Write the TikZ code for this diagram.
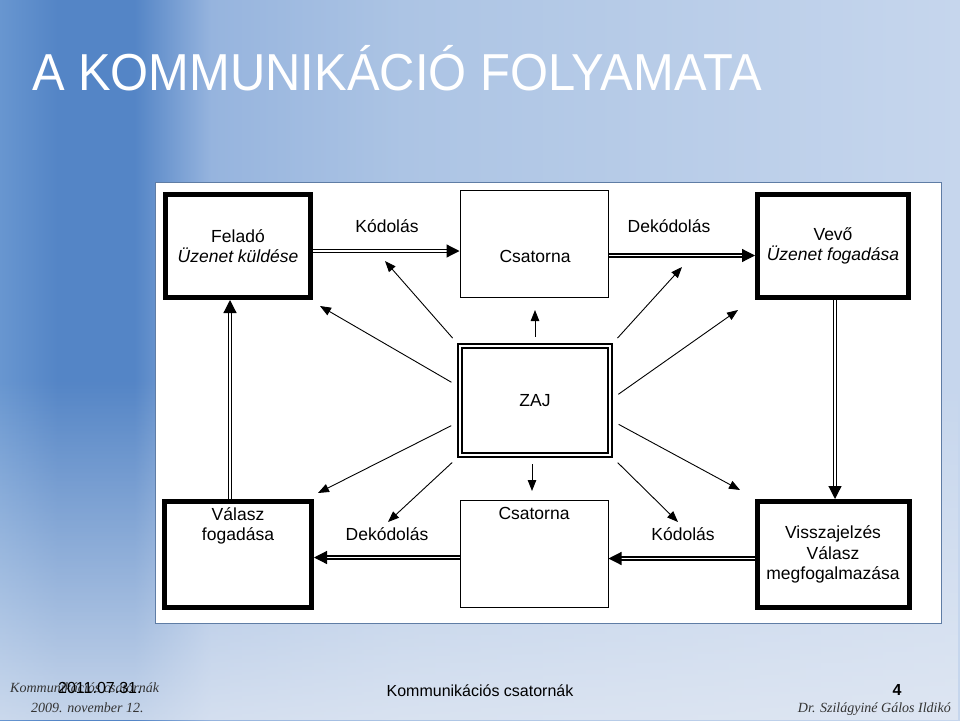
\documentclass[tikz,border=0pt]{standalone}
\usepackage{fontspec}
\setmainfont{Liberation Sans}
\newfontfamily\titlefont[FakeStretch=0.94]{Liberation Sans}
\newfontfamily\footserif{Liberation Serif}
\usetikzlibrary{arrows.meta,positioning,fadings}

\def\diagfont{\fontsize{17.5}{20.5}\selectfont}

\definecolor{bgA}{RGB}{104,150,208}
\definecolor{bgB}{RGB}{84,133,198}
\definecolor{bgC}{RGB}{150,180,222}
\definecolor{bgD}{RGB}{172,196,228}
\definecolor{bgE}{RGB}{198,214,237}
\definecolor{bgBottom}{RGB}{228,234,244}
\definecolor{panelEdge}{RGB}{95,125,165}

% background runs from 25bp (left edge) to 75bp (right edge)
\pgfdeclarehorizontalshading{slidebg}{100bp}{color(0bp)=(bgA); color(25bp)=(bgA);
  color(28bp)=(bgB); color(32bp)=(bgB); color(36bp)=(bgC); color(46bp)=(bgD);
  color(75bp)=(bgE); color(100bp)=(bgE)}

\begin{document}
\begin{tikzpicture}[x=1pt,y=-1pt,
    sender/.style={draw, rectangle, line width=5pt, inner sep=0pt,
      align=center, font=\diagfont},
    channel/.style={draw, rectangle, line width=1pt, inner sep=0pt,
      align=center, font=\diagfont},
    noisebox/.style={draw, rectangle, double, line width=2.6pt,
      double distance=1.6pt, outer sep=3.4pt, inner sep=0pt, font=\diagfont},
    flow/.style={double, line width=1.2pt, double distance=1.9pt,
      -{Triangle[length=13pt,width=13pt]}},
    noise/.style={line width=0.9pt, shorten <=6pt,
      -{Triangle[length=11pt,width=8.5pt]}},
    lbl/.style={font=\diagfont, inner sep=0pt}]

  % === BACKGROUND ===
  \shade[shading=slidebg] (0,0) rectangle (960,720);
  \fill[bgBottom, path fading=north, fill opacity=0.8] (0,380) rectangle (960,720);
  \useasboundingbox (0,0) rectangle (960,720);

  % title
  \node[anchor=base west, inner sep=0pt, text=white,
    font=\titlefont\fontsize{52}{52}\selectfont] (title) at (32,90)
    {A KOMMUNIKÁCIÓ FOLYAMATA};

  % white panel of the diagram
  \draw[panelEdge, line width=1pt, fill=white] (155,182) rectangle (941,623);

  % === BOXES ===
  \node[sender, minimum width=145pt, minimum height=103pt] (felado) at (238,246)
    {Feladó\\\textit{Üzenet küldése}};
  \node[channel, minimum width=148pt, minimum height=107pt] (csat1) at (534,243.5) {};
  \node[lbl] (csat1txt) at (535,256) {Csatorna};
  \node[sender, minimum width=151pt, minimum height=103pt] (vevo) at (833,246)
    {Vevő\\\textit{Üzenet fogadása}};

  \node[noisebox, minimum width=150pt, minimum height=109pt] (zaj) at (535,400.5) {ZAJ};

  \node[sender, minimum width=147pt, minimum height=106pt] (valasz) at (238,554.5) {};
  \node[lbl, align=center, below=8pt of valasz.north] (valasztxt)
    {Válasz\\fogadása};
  \node[channel, minimum width=148pt, minimum height=107pt] (csat2) at (534,553.5) {};
  \node[lbl, below=8pt of csat2.north] (csat2txt) {Csatorna};
  \node[sender, minimum width=152pt, minimum height=106pt] (vissza) at (833,554.5)
    {Visszajelzés\\Válasz\\megfogalmazása};

  % === MAIN FLOW ===
  \draw[flow] ([yshift=-5pt]felado.east) -- ([yshift=-5pt]felado.east -| csat1.west);
  \draw[flow] ([yshift=-12pt]csat1.east) -- ([yshift=-12pt]csat1.east -| vevo.west);
  \draw[flow] ([xshift=2pt]vevo.south) -- ([xshift=2pt]vevo.south |- vissza.north);
  \draw[flow] ([yshift=-4pt]vissza.west) -- ([yshift=-4pt]vissza.west -| csat2.east);
  \draw[flow] ([yshift=-4pt]csat2.west) -- ([yshift=-4pt]csat2.west -| valasz.east);
  \draw[flow] ([xshift=-8pt]valasz.north) -- ([xshift=-8pt]valasz.north |- felado.south);

  \node[lbl] (kod1) at (387,226) {Kódolás};
  \node[lbl] (dekod1) at (669,226) {Dekódolás};
  \node[lbl] (dekod2) at (387,534) {Dekódolás};
  \node[lbl] (kod2) at (683,534) {Kódolás};

  % === NOISE ===
  \coordinate (n1) at (385,261);
  \coordinate (n2) at (320,306);
  \coordinate (n3) at (535,310);
  \coordinate (n4) at (682,267);
  \coordinate (n5) at (738,310);
  \coordinate (n6) at (318,493);
  \coordinate (n7) at (388,522);
  \coordinate (n8) at (532,491);
  \coordinate (n9) at (678,522);
  \coordinate (n10) at (740,490);

  \draw[noise] (zaj.north west) -- (n1);
  \draw[noise] (zaj.169) -- (n2);
  \draw[noise] (zaj.north) -- (n3);
  \draw[noise] (zaj.north east) -- (n4);
  \draw[noise] (zaj.2) -- (n5);
  \draw[noise] (zaj.196) -- (n6);
  \draw[noise] (zaj.south west) -- (n7);
  \draw[noise] ([xshift=-3pt]zaj.south) -- (n8);
  \draw[noise] (zaj.south east) -- (n9);
  \draw[noise] (zaj.-15) -- (n10);

  % === FOOTER ===
  \node[anchor=base west, inner sep=0pt, font=\footserif\itshape\fontsize{14}{14}\selectfont,
    text=black!80] (ftopic) at (10,692) {Kommunikációs csatornák};
  \node[anchor=base west, inner sep=0pt, font=\fontsize{16}{16}\selectfont] (fdate)
    at (58,693) {2011.07.31.};
  \node[anchor=base west, inner sep=0pt, font=\footserif\itshape\fontsize{14}{14}\selectfont,
    text=black!80] (fday) at (31,712) {2009. november 12.};
  \node[anchor=base, inner sep=0pt, font=\fontsize{16}{16}\selectfont] (fmid)
    at (480,696) {Kommunikációs csatornák};
  \node[anchor=base, inner sep=0pt, font=\bfseries\fontsize{16}{16}\selectfont] (fnum)
    at (897,695) {4};
  \node[anchor=base east, inner sep=0pt, font=\footserif\itshape\fontsize{14}{14}\selectfont,
    text=black!80] (fauthor) at (951,712) {Dr. Szilágyiné Gálos Ildikó};

\end{tikzpicture}
\end{document}
